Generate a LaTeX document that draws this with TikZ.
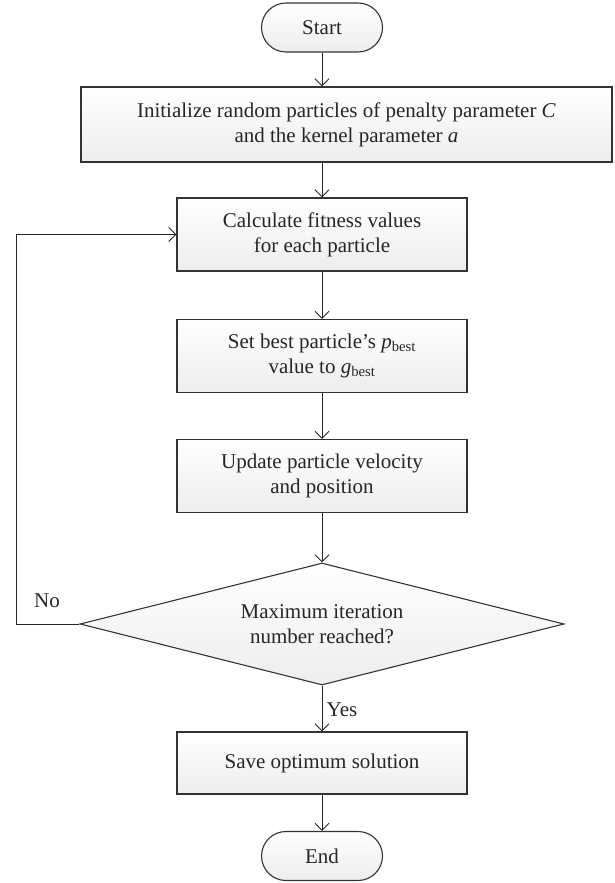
\documentclass[tikz,border=0pt]{standalone}
\usepackage{fontspec}
\setmainfont{Liberation Serif}
\usetikzlibrary{positioning,shapes.geometric,shapes.misc,arrows.meta}

\begin{document}
\begin{tikzpicture}[x=1pt,y=-1pt]
\tikzset{T/.style={rounded rectangle,draw=black!80,line width=1.1pt,top color=white,bottom color=black!7,minimum width=121pt,minimum height=49pt,inner sep=0pt}}
\tikzset{B/.style={rectangle,draw=black!80,line width=1.1pt,top color=white,bottom color=black!7,minimum width=290pt,minimum height=73pt,align=center,inner sep=0pt}}
\tikzset{D/.style={diamond,draw=black!80,line width=1.1pt,top color=white,bottom color=black!7,minimum width=484pt,minimum height=122pt,aspect=3.97,align=center,inner sep=0pt}}
\tikzset{arr/.style={draw=black!85,line width=1pt,-{Straight Barb[length=7pt,width=14pt]}}}
\tikzset{every node/.style={font=\fontsize{21}{25}\selectfont,text=black!85}}

  \useasboundingbox (0,0) rectangle (615,883);

  \node[T] (st)   at (322,27.5)  {Start};
  \node[B,minimum width=531pt,minimum height=75pt] (init) at (346.5,124.5)
    {Initialize random particles of penalty parameter \textit{C}\\ and the kernel parameter \textit{a}};
  \node[B] (calc) at (322,234.5) {Calculate fitness values\\ for each particle};
  \node[B] (setb) at (322,356)   {Set best particle's \textit{p}\textsubscript{best}\\ value to \textit{g}\textsubscript{best}};
  \node[B] (upd)  at (322,476)   {Update particle velocity\\ and position};
  \node[D] (dec)  at (322,624)   {Maximum iteration\\ number reached?};
  \node[B,minimum height=62pt] (save) at (322,763) {Save optimum solution};
  \node[T] (en)   at (322,856)   {End};

  \coordinate (lp) at (16,624);
  \node (no)  at (47,601)  {No};
  \node (yes) at (342,710) {Yes};

  \draw[arr] (st.south) -- (st.south |- init.north);
  \draw[arr] (calc.north |- init.south) -- (calc.north);
  \draw[arr] (calc) -- (setb);
  \draw[arr] (setb) -- (upd);
  \draw[arr] (upd) -- (dec);
  \draw[arr] (dec) -- (save);
  \draw[arr] (save) -- (en);
  \draw[arr] (dec.west) -- (lp) |- (calc.west);
\end{tikzpicture}
\end{document}
